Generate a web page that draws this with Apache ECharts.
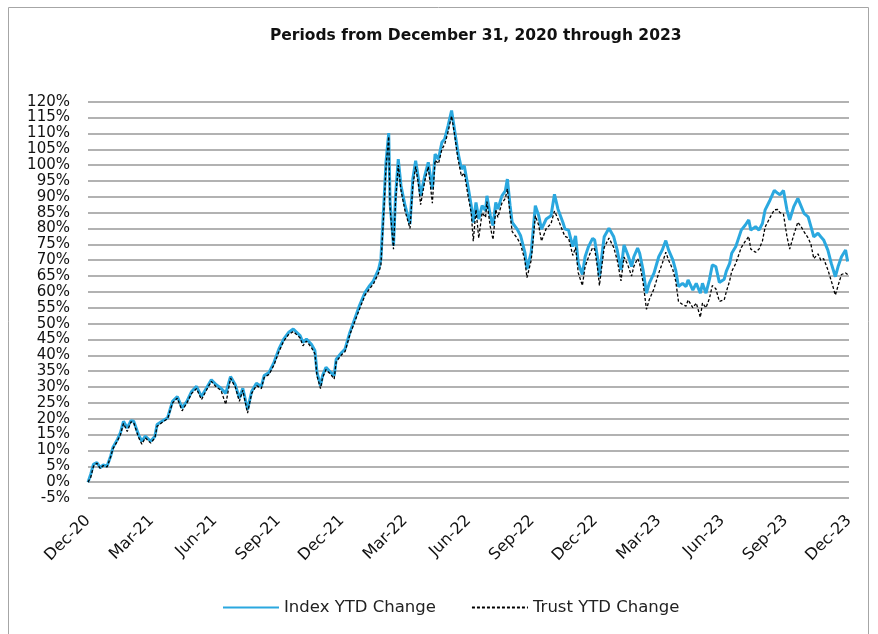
<!DOCTYPE html>
<html><head><meta charset="utf-8">
<script src="https://cdn.jsdelivr.net/npm/echarts@6/dist/echarts.min.js"></script>
<style>html,body{margin:0;padding:0;background:#fff}#c{width:878px;height:634px}</style>
</head><body><div id="c"></div>
<script>
const title = 'Periods from December 31, 2020 through 2023';
const tickLabels = ['Dec-20','Mar-21','Jun-21','Sep-21','Dec-21','Mar-22','Jun-22','Sep-22','Dec-22','Mar-23','Jun-23','Sep-23','Dec-23'];
const seriesNames = ['Index YTD Change','Trust YTD Change'];
const dates = ['2020-12-31','2021-01-04','2021-01-08','2021-01-13','2021-01-18','2021-01-22','2021-01-28','2021-02-02','2021-02-05','2021-02-11','2021-02-15','2021-02-19','2021-02-24','2021-03-01','2021-03-05','2021-03-12','2021-03-17','2021-03-22','2021-03-30','2021-04-05','2021-04-08','2021-04-15','2021-04-23','2021-04-30','2021-05-07','2021-05-14','2021-05-21','2021-05-28','2021-06-04','2021-06-11','2021-06-18','2021-06-25','2021-07-02','2021-07-09','2021-07-16','2021-07-23','2021-07-30','2021-08-05','2021-08-10','2021-08-17','2021-08-23','2021-08-30','2021-09-06','2021-09-10','2021-09-17','2021-09-24','2021-10-01','2021-10-08','2021-10-15','2021-10-22','2021-11-01','2021-11-05','2021-11-10','2021-11-17','2021-11-22','2021-11-25','2021-11-30','2021-12-03','2021-12-08','2021-12-15','2021-12-20','2021-12-23','2021-12-31','2022-01-05','2022-01-12','2022-01-19','2022-01-26','2022-02-03','2022-02-09','2022-02-14','2022-02-21','2022-02-24','2022-02-28','2022-03-03','2022-03-07','2022-03-09','2022-03-14','2022-03-17','2022-03-21','2022-03-25','2022-03-31','2022-04-07','2022-04-11','2022-04-15','2022-04-19','2022-04-22','2022-04-28','2022-05-03','2022-05-09','2022-05-13','2022-05-18','2022-05-23','2022-05-27','2022-06-01','2022-06-06','2022-06-10','2022-06-15','2022-06-20','2022-06-24','2022-06-30','2022-07-04','2022-07-07','2022-07-11','2022-07-15','2022-07-20','2022-07-25','2022-07-27','2022-08-01','2022-08-05','2022-08-09','2022-08-12','2022-08-18','2022-08-23','2022-08-26','2022-08-30','2022-09-02','2022-09-09','2022-09-14','2022-09-20','2022-09-23','2022-09-29','2022-10-05','2022-10-10','2022-10-14','2022-10-21','2022-10-28','2022-11-02','2022-11-07','2022-11-14','2022-11-17','2022-11-22','2022-11-28','2022-12-02','2022-12-06','2022-12-12','2022-12-16','2022-12-21','2022-12-27','2022-12-30','2023-01-03','2023-01-06','2023-01-10','2023-01-13','2023-01-20','2023-01-27','2023-02-01','2023-02-06','2023-02-10','2023-02-15','2023-02-20','2023-02-23','2023-02-28','2023-03-03','2023-03-08','2023-03-13','2023-03-17','2023-03-24','2023-03-31','2023-04-05','2023-04-10','2023-04-14','2023-04-20','2023-04-24','2023-04-28','2023-05-04','2023-05-09','2023-05-12','2023-05-19','2023-05-24','2023-05-30','2023-06-02','2023-06-07','2023-06-12','2023-06-16','2023-06-21','2023-06-26','2023-07-03','2023-07-06','2023-07-11','2023-07-14','2023-07-20','2023-07-28','2023-08-03','2023-08-08','2023-08-11','2023-08-18','2023-08-23','2023-08-28','2023-09-01','2023-09-08','2023-09-14','2023-09-19','2023-09-22','2023-09-27','2023-10-02','2023-10-06','2023-10-12','2023-10-18','2023-10-23','2023-10-27','2023-11-02','2023-11-06','2023-11-10','2023-11-16','2023-11-20','2023-11-24','2023-11-30','2023-12-05','2023-12-11','2023-12-15','2023-12-20','2023-12-26','2023-12-29'];
const indexYTD = [0,2.5,5.6,6.2,4.6,5.4,5.1,8.2,10.9,13.5,15.6,19.2,17.1,19.4,19.2,15.0,12.9,14.5,12.9,14.5,18.2,19.2,20.3,25.5,27.0,23.4,25.5,28.6,30.2,27.0,29.6,32.3,30.7,29.6,28.0,33.3,30.7,26.5,29.6,22.9,28.6,31.2,30.2,33.6,34.6,37.8,42.0,45.1,47.2,48.3,46.2,44.1,45.1,43.5,41.5,34.6,30.4,33.6,36.2,34.6,33.6,38.8,40.9,42.0,47.2,51.4,55.6,59.9,62.0,63.5,67.2,70.4,88.2,100.9,110.1,88.2,74.6,90.3,101.9,93.5,87.2,81.4,95.6,101.4,95.6,90.3,96.7,100.9,92.4,103.5,101.9,107.2,108.2,112.4,117.2,111.4,104.0,98.8,99.8,92.4,87.2,81.9,88.2,83.0,87.2,85.6,90.3,84.0,80.9,88.2,86.1,90.3,91.9,95.6,87.2,81.9,79.8,77.7,72.5,67.2,72.5,87.2,84.0,79.8,83.0,84.0,90.8,86.1,81.9,79.8,79.5,74.3,77.7,69.0,65.5,71.1,74.3,76.9,76.4,71.1,64.8,72.2,77.4,80.1,77.4,73.2,66.9,74.8,71.7,68.0,71.1,73.8,72.2,66.9,59.6,62.7,65.9,71.1,73.2,76.2,73.2,70.1,66.9,61.7,62.7,61.7,63.8,60.6,62.7,59.6,62.7,59.6,64.0,68.5,68.0,63.0,64.0,66.5,69.0,72.2,74.3,79.5,81.1,82.7,79.5,80.6,79.5,81.6,85.9,89.0,92.0,91.1,90.6,92.0,85.9,82.7,86.9,89.5,86.9,84.8,83.7,80.6,77.4,78.5,77.4,76.4,73.2,69.0,64.8,68.0,71.1,73.2,69.6];
const trustYTD = [0,1.5,5.0,6.0,4.3,5.2,4.8,8.0,10.5,13.0,15.0,18.5,16.0,19.0,18.8,14.2,12.0,14.0,12.3,14.0,17.6,18.8,20.0,25.0,26.5,22.5,25.0,28.0,29.5,26.0,29.0,31.8,30.0,29.0,24.5,32.8,30.0,25.5,29.0,21.8,28.0,30.5,29.5,33.0,34.0,37.0,41.2,44.5,46.5,47.5,45.5,43.0,44.5,42.5,40.5,33.5,29.5,33.0,35.5,34.0,32.5,38.0,40.2,41.2,46.5,50.5,54.5,59.0,61.0,62.5,66.0,68.5,86.0,99.5,109.0,86.5,73.5,88.5,100.0,92.0,85.5,80.0,93.5,99.5,94.0,87.5,95.0,99.5,88.0,101.5,100.5,105.0,106.5,110.5,115.5,110.0,102.0,96.5,97.5,89.5,85.0,76.0,86.0,77.0,85.0,83.5,88.5,80.5,76.5,86.0,83.5,88.0,89.5,92.5,84.5,79.0,77.0,75.0,70.0,64.5,70.0,84.0,81.0,76.0,80.0,81.5,85.5,83.0,79.0,77.5,77.0,71.5,74.0,66.0,62.0,68.0,71.0,74.0,73.5,68.0,62.0,69.0,74.0,77.0,74.0,70.0,63.5,71.0,68.5,65.0,68.0,70.5,69.0,63.0,54.5,57.5,61.0,66.0,69.0,72.5,70.0,67.0,63.5,57.0,56.0,55.5,57.5,55.0,56.5,52.0,56.5,55.0,58.0,62.0,61.0,57.0,57.5,60.0,63.5,66.5,69.0,74.0,76.0,77.5,73.5,72.5,73.5,76.0,80.5,83.5,85.9,86.0,85.0,84.5,77.5,73.5,78.0,82.0,80.5,79.0,77.0,75.0,70.5,72.0,70.0,70.5,67.0,63.5,59.0,62.0,65.5,66.0,65.5];

function monthsSince(d) {
  const p = d.split('-').map(Number);
  const dim = new Date(p[0], p[1], 0).getDate();
  return (p[0] - 2021) * 12 + (p[1] - 1) + p[2] / dim;
}
const xs = dates.map(monthsSince);
const idxData = xs.map((x, i) => [x, indexYTD[i]]);
const trData = xs.map((x, i) => [x, trustYTD[i]]);

const FONT = 'DejaVu Sans';
const chart = echarts.init(document.getElementById('c'), null, {renderer: 'canvas'});
chart.setOption({
  animation: false,
  backgroundColor: '#fff',
  textStyle: {fontFamily: FONT},
  graphic: [{
    type: 'rect', shape: {x: 8.5, y: 7.5, width: 860, height: 660},
    style: {fill: 'none', stroke: '#a6a6a6', lineWidth: 1}, silent: true, z: -1
  }],
  title: {
    text: title, left: 265, top: 23,
    textStyle: {fontFamily: FONT, fontSize: 15.5, fontWeight: 'bold', color: '#111'}
  },
  legend: {
    bottom: 13, left: 217, itemWidth: 56, itemHeight: 14, itemGap: 35,
    data: seriesNames,
    itemStyle: {opacity: 0},
    textStyle: {fontFamily: FONT, fontSize: 16.5, color: '#222'}
  },
  grid: {left: 88, right: 29, top: 101.7, bottom: 136},
  xAxis: {
    type: 'value', min: 0, max: 36, interval: 3,
    axisLine: {show: false}, axisTick: {show: false}, splitLine: {show: false},
    axisLabel: {
      rotate: 45, fontSize: 16, color: '#111', margin: 20,
      formatter: v => tickLabels[Math.round(v / 3)]
    }
  },
  yAxis: {
    type: 'value', min: -5, max: 120, interval: 5,
    axisLine: {show: false}, axisTick: {show: false},
    splitLine: {lineStyle: {color: '#999999', width: 1.5}},
    axisLabel: {fontSize: 15, color: '#111', margin: 18, formatter: '{value}%',
                showMinLabel: true, showMaxLabel: true, hideOverlap: false}
  },
  series: [
    {name: seriesNames[0], type: 'line', data: idxData, symbol: 'none',
     lineStyle: {color: '#2BA8DF', width: 3}, itemStyle: {color: '#2BA8DF'}, z: 2},
    {name: seriesNames[1], type: 'line', data: trData, symbol: 'none',
     lineStyle: {color: '#000', width: 1.3, type: [3, 2]}, itemStyle: {color: '#000'}, z: 3}
  ]
});
</script></body></html>
